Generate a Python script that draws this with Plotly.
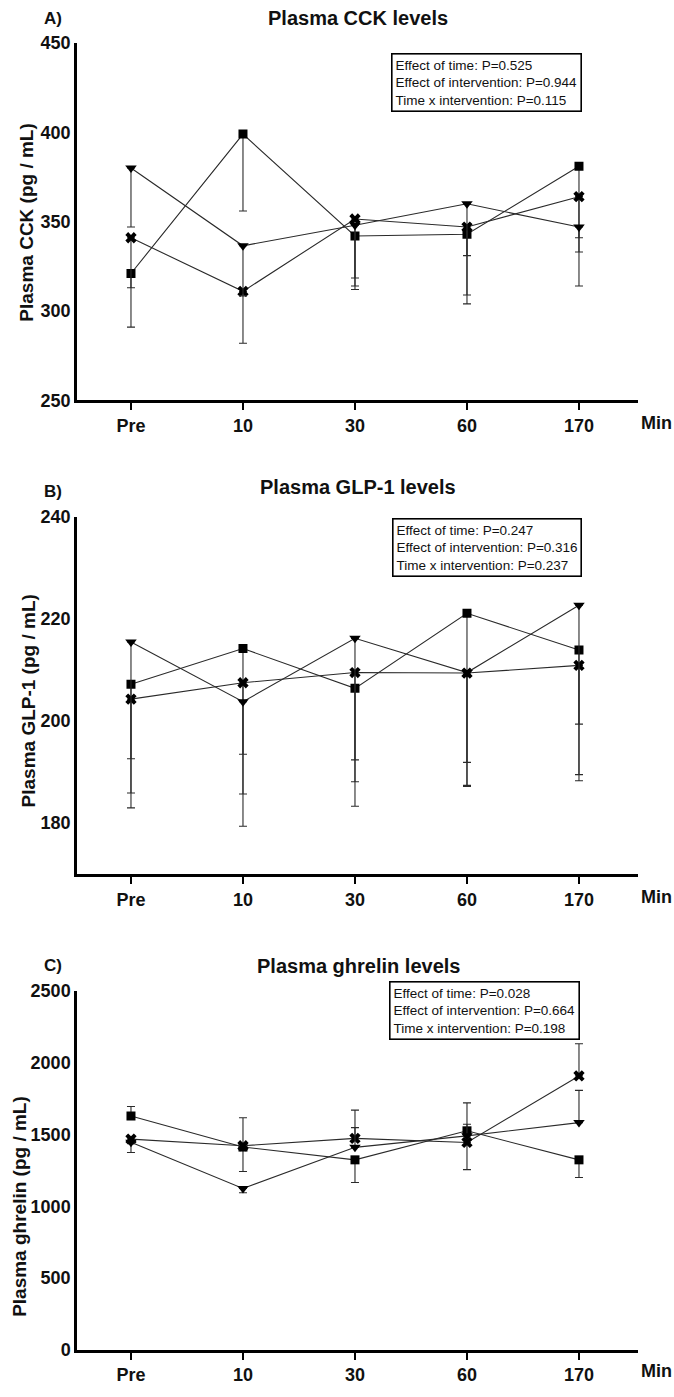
import plotly.graph_objects as go

# ---------------- data ----------------
time_labels = ["Pre", "10", "30", "60", "170"]
time_idx = [0, 1, 2, 3, 4]

# Panel A: CCK (pg/mL)
cck_square = [321, 399, 342, 343, 381]
cck_square_up = [0, 0, 0, 0, 0]
cck_square_down = [30, 43, 30, 39, 40]
cck_cross = [341, 311, 351.5, 347, 364]
cck_cross_up = [0, 0, 0, 0, 0]
cck_cross_down = [28, 29, 33, 38, 31]
cck_tri = [380, 336.5, 348, 360, 347]
cck_tri_up = [0, 0, 0, 0, 0]
cck_tri_down = [33, 28, 34, 29, 33]

# Panel B: GLP-1 (pg/mL)
glp_square = [207.2, 214.2, 206.4, 221.1, 213.9]
glp_square_up = [0, 0, 0, 0, 0]
glp_square_down = [21.3, 34.8, 14.0, 33.9, 24.4]
glp_cross = [204.3, 207.5, 209.5, 209.4, 210.9]
glp_cross_up = [0, 0, 0, 0, 0]
glp_cross_down = [11.7, 21.8, 21.4, 17.5, 11.5]
glp_tri = [215.5, 203.8, 216.2, 209.5, 222.7]
glp_tri_up = [0, 0, 0, 0, 0]
glp_tri_down = [32.5, 10.3, 32.9, 22.1, 34.4]

# Panel C: ghrelin (pg/mL)
ghr_square = [1628, 1412, 1323, 1525, 1323]
ghr_square_up = [66, 0, 0, 194, 0]
ghr_square_down = [0, 170, 158, 0, 123]
ghr_cross = [1467, 1421, 1472, 1444, 1907]
ghr_cross_up = [0, 195, 197, 0, 224]
ghr_cross_down = [0, 0, 0, 189, 0]
ghr_tri = [1445, 1124, 1410, 1490, 1582]
ghr_tri_up = [0, 0, 137, 81, 224]
ghr_tri_down = [71, 30, 0, 0, 0]

panel_titles = ["Plasma CCK levels", "Plasma GLP-1 levels", "Plasma ghrelin levels"]
panel_letters = ["A)", "B)", "C)"]
y_titles = ["Plasma CCK (pg / mL)", "Plasma GLP-1 (pg / mL)", "Plasma ghrelin (pg / mL)"]
y_ranges = [[250, 450], [170, 240], [0, 2500]]
y_ticks = [[250, 300, 350, 400, 450], [180, 200, 220, 240], [0, 500, 1000, 1500, 2000, 2500]]
stats_text = [
    ["Effect of time: P=0.525", "Effect of intervention: P=0.944", "Time x intervention: P=0.115"],
    ["Effect of time: P=0.247", "Effect of intervention: P=0.316", "Time x intervention: P=0.237"],
    ["Effect of time: P=0.028", "Effect of intervention: P=0.664", "Time x intervention: P=0.198"],
]

# ---------------- layout geometry (pixels) ----------------
W, H = 674, 1397
L, R, T, B = 77, 36, 43, 30
PW, PH = W - L - R, H - T - B


def px(x):
    return (x - L) / PW


def py(y):
    return (H - B - y) / PH


panel_px = [(43, 405), (523, 885), (1003, 1367)]

FONT = "Liberation Sans, Arial, Helvetica, sans-serif"
INK = "#111111"

fig = go.Figure()

series = [
    [(cck_square, cck_square_up, cck_square_down, "square", 9),
     (cck_cross, cck_cross_up, cck_cross_down, "x", 10),
     (cck_tri, cck_tri_up, cck_tri_down, "triangle-down", 10)],
    [(glp_square, glp_square_up, glp_square_down, "square", 9),
     (glp_cross, glp_cross_up, glp_cross_down, "x", 10),
     (glp_tri, glp_tri_up, glp_tri_down, "triangle-down", 10)],
    [(ghr_square, ghr_square_up, ghr_square_down, "square", 9),
     (ghr_cross, ghr_cross_up, ghr_cross_down, "x", 10),
     (ghr_tri, ghr_tri_up, ghr_tri_down, "triangle-down", 10)],
]

for i, panel in enumerate(series):
    suffix = "" if i == 0 else str(i + 1)
    for vals, up, down, sym, size in panel:
        fig.add_trace(go.Scatter(
            x=time_idx, y=vals, mode="lines+markers",
            xaxis="x" + suffix, yaxis="y" + suffix,
            line=dict(color="#2a2a2a", width=1.1),
            marker=dict(symbol=sym, size=size, color="black"),
            error_y=dict(type="data", symmetric=False, array=up, arrayminus=down,
                         color="#2a2a2a", thickness=1.1, width=4),
            showlegend=False, hoverinfo="skip",
        ))

layout = dict(
    width=W, height=H,
    margin=dict(l=L, r=R, t=T, b=B),
    paper_bgcolor="white", plot_bgcolor="white",
    font=dict(family=FONT, color=INK),
    showlegend=False,
)

annotations = []
for i in range(3):
    suffix = "" if i == 0 else str(i + 1)
    top, bot = panel_px[i]
    layout["xaxis" + suffix] = dict(
        domain=[0, 1], anchor="y" + suffix,
        range=[-0.482, 4.527], tickvals=time_idx, ticktext=time_labels,
        showline=True, linecolor="black", linewidth=2.5,
        ticks="outside", ticklen=7, tickwidth=2, tickcolor="black",
        showgrid=False, zeroline=False,
        tickfont=dict(size=18, family=FONT, color=INK, weight="bold"),
    )
    layout["yaxis" + suffix] = dict(
        domain=[py(bot), py(top)], anchor="x" + suffix,
        range=y_ranges[i], tickvals=y_ticks[i],
        showline=True, linecolor="black", linewidth=2.5,
        ticks="", showgrid=False, zeroline=False,
        tickfont=dict(size=18, family=FONT, color=INK, weight="bold"),
    )
    title_y = [18, 493, 978][i]
    annotations.append(dict(
        x=px(358), y=py(title_y), xref="paper", yref="paper",
        text="<b>" + panel_titles[i] + "</b>", showarrow=False,
        xanchor="center", yanchor="middle",
        font=dict(size=20, family=FONT, color=INK)))
    annotations.append(dict(
        x=px(42), y=py([18, 497, 977][i]), xref="paper", yref="paper",
        text="<b>" + panel_letters[i] + "</b>", showarrow=False,
        xanchor="left", yanchor="middle",
        font=dict(size=17, family=FONT, color=INK)))
    annotations.append(dict(
        x=px([27, 28, 20][i]), y=py([225, 710, 1222][i]), xref="paper", yref="paper",
        text="<b>" + y_titles[i] + "</b>", showarrow=False, textangle=-90,
        xanchor="center", yanchor="middle",
        font=dict(size=19, family=FONT, color=INK)))
    annotations.append(dict(
        x=px(639), y=py([428, 908, 1388][i]), xref="paper", yref="paper",
        text="<b>Min</b>", showarrow=False,
        xanchor="left", yanchor="middle",
        font=dict(size=18, family=FONT, color=INK)))
    box_left, box_top = [(391, 53), (392, 524), (389, 993)][i]
    annotations.append(dict(
        x=px(box_left), y=py(box_top), xref="paper", yref="paper",
        text="<br>".join(stats_text[i]), showarrow=False,
        xanchor="left", yanchor="top", align="left",
        bordercolor="black", borderwidth=1.6, borderpad=3, bgcolor="white",
        font=dict(size=13.5, family=FONT, color=INK)))

layout["annotations"] = annotations
fig.update_layout(**layout)

fig.write_html("out.html")
